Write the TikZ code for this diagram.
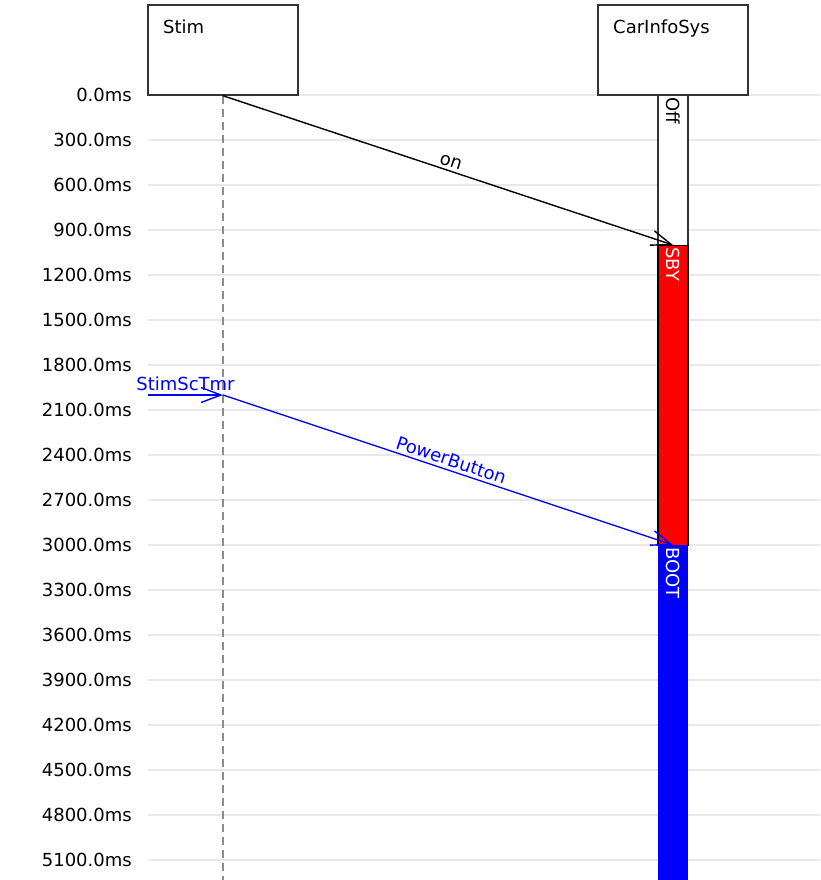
\documentclass[tikz,border=0pt]{standalone}
\usepackage{fontspec}
\setmainfont{DejaVu Sans}
\usetikzlibrary{arrows.meta, positioning}
\definecolor{cgrid}{HTML}{E8E8E8}
\definecolor{cedge}{HTML}{333333}
\definecolor{clife}{HTML}{8C8C8C}

\begin{document}
\begin{tikzpicture}[x=1pt, y=-1pt,
  every node/.style={font=\fontsize{18}{21}\selectfont},
  actor/.style={draw=cedge, fill=white, line width=1.5pt, minimum width=150pt, minimum height=90pt, inner sep=0pt},
  state/.style={minimum width=30pt, minimum height=#1, inner sep=0pt, anchor=north},
  slbl/.style={rotate=-90, anchor=west, inner sep=2pt},
  msg/.style={-{Straight Barb[length=20pt, width=15pt, line width=1.4pt]}, line width=1.4pt},
  gridln/.style={cgrid, line width=1.6pt},
  tick/.style={anchor=east, inner sep=0pt}
]
\useasboundingbox (0,0) rectangle (820,880);

% time axis, 300ms = 45pt
\foreach \t in {0,...,17} {
  \pgfmathtruncatemacro\ms{300*\t}
  \draw[gridln] (148,95+45*\t) -- (820,95+45*\t);
  \node[tick] (t\t) at (132,95+45*\t) {\ms.0ms};
}

% lifelines
\node[actor] (stim) at (223,50) {};
\node[anchor=north west, inner sep=0pt] (stimname) at (163,20) {Stim};
\node[actor] (cis) at (673,50) {};
\node[anchor=north west, inner sep=0pt] (cisname) at (613,20) {CarInfoSys};

\coordinate (stimend) at (223,880);
\draw[clife, line width=1.2pt, dash pattern=on 8pt off 5pt] (stim.south) -- (stimend);

% states of CarInfoSys
\node[state=150pt, draw=cedge, fill=white, line width=1.2pt] (off) at (673,95) {};
\node[state=300pt, draw=black, fill=red, line width=1.2pt] (sby) at (673,245) {};
\node[state=335pt, fill=blue] (boot) at (673,545) {};
\node[slbl] (offlbl) at (off.north) {Off};
\node[slbl, text=white] (sbylbl) at (sby.north) {SBY};
\node[slbl, text=white] (bootlbl) at (boot.north) {BOOT};

% messages
\coordinate (tmrin) at (148,395);
\coordinate (tmr) at (223,395);
\draw[msg] (stim.south) -- node[sloped, above, inner sep=3pt]{on} (sby.north);
\draw[msg, blue] (tmrin) -- node[above, inner sep=4pt]{StimScTmr} (tmr);
\draw[msg, blue] (tmr) -- node[sloped, above, inner sep=3pt]{PowerButton} (boot.north);
\end{tikzpicture}
\end{document}
